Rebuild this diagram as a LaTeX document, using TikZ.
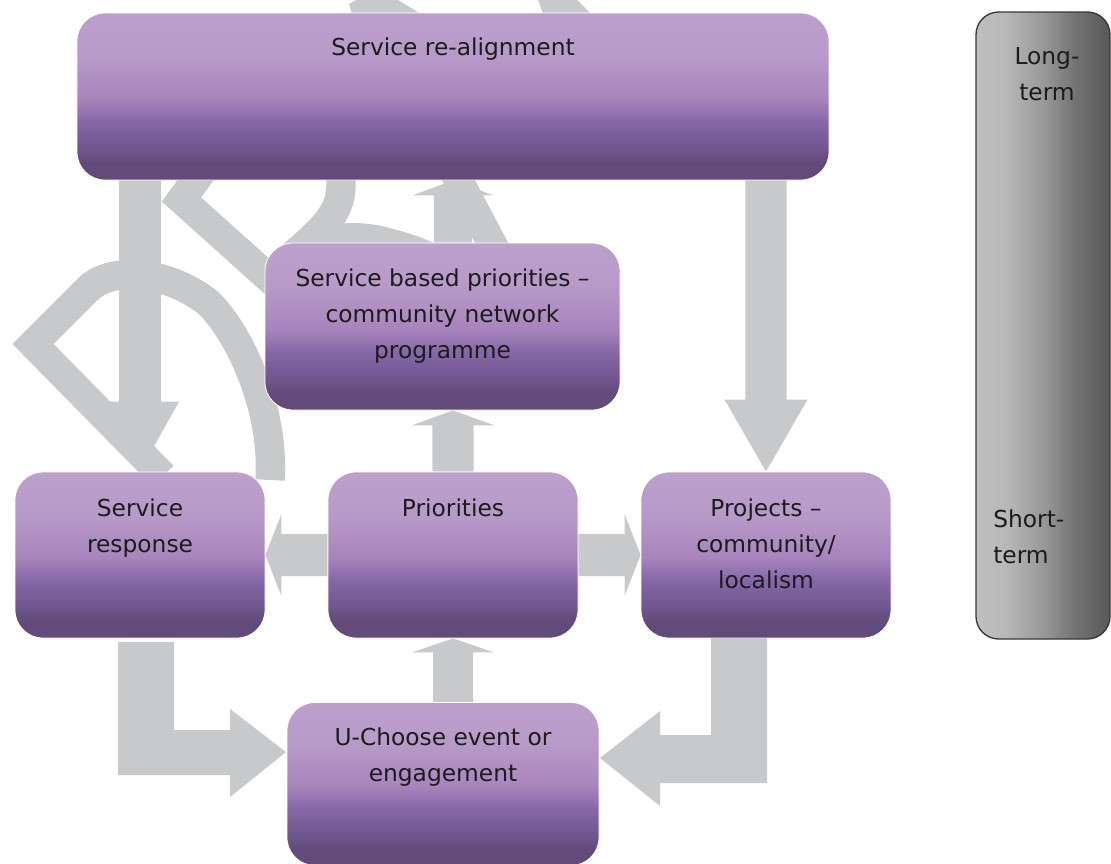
\documentclass[tikz,border=0pt]{standalone}
\usepackage{fontspec}
\setmainfont{DejaVu Sans}
\usetikzlibrary{calc}

% palette
\definecolor{bandc}{RGB}{200,201,203}
\definecolor{textc}{RGB}{28,28,28}
\definecolor{pbot}{RGB}{98,74,122}
\definecolor{pdk}{RGB}{114,88,146}
\definecolor{pmid}{RGB}{134,104,168}
\definecolor{plt}{RGB}{168,133,189}
\definecolor{plt2}{RGB}{183,154,200}
\definecolor{ptop}{RGB}{188,160,204}
\definecolor{gl}{RGB}{191,191,191}
\definecolor{gl2}{RGB}{184,184,184}
\definecolor{gm}{RGB}{150,150,150}
\definecolor{gd2}{RGB}{115,115,115}
\definecolor{gd}{RGB}{88,88,88}
\definecolor{barline}{RGB}{55,55,55}

\pgfdeclareverticalshading{purpshade}{100bp}{color(0bp)=(pbot); color(25bp)=(pbot); color(30bp)=(pbot); color(35.5bp)=(pdk); color(42.5bp)=(pmid); color(49.5bp)=(plt); color(62bp)=(plt2); color(75bp)=(ptop); color(100bp)=(ptop)}
\pgfdeclarehorizontalshading{barshade}{100bp}{color(0bp)=(gl); color(25bp)=(gl); color(36bp)=(gl2); color(51bp)=(gm); color(62bp)=(gd2); color(75bp)=(gd); color(100bp)=(gd)}

\pgfdeclarelayer{bands}
\pgfsetlayers{bands,main}

% straight block arrow: #1 start, #2 tip, #3 half shaft width, #4 half head width, #5 head length
\newcommand\bandarrow[5]{%
  \coordinate (ba-h) at ($(#2)!#5!(#1)$);
  \fill[bandc] ($(#1)!#3!90:(#2)$) -- ($(ba-h)!#3!90:(#2)$) -- ($(ba-h)!#4!90:(#2)$)
    -- (#2) -- ($(ba-h)!#4!-90:(#2)$) -- ($(ba-h)!#3!-90:(#2)$) -- ($(#1)!#3!-90:(#2)$) -- cycle;
}

\tikzset{
  box/.style={rounded corners=21pt, shading=purpshade, draw=white, line width=0.6pt, inner sep=0pt},
  termbar/.style={rounded corners=17pt, shading=barshade, draw=barline, line width=1pt, inner sep=0pt},
  txt/.style={font=\fontsize{17.5}{27}\selectfont, align=center, inner sep=0pt, text=textc, anchor=north},
  band/.style={draw=bandc, line width=22pt, line join=miter, line cap=butt}
}

\begin{document}
\begin{tikzpicture}[x=0.75pt, y=-0.75pt]
\useasboundingbox (0,0) rectangle (1111,864);

% ---- boxes ----
\node[box, minimum width=564pt, minimum height=125.25pt] (realign) at (453,96.5) {};
\node[box, minimum width=266.25pt, minimum height=125.25pt] (sbp) at (442.5,326.5) {};
\node[box, minimum width=187.5pt, minimum height=124.5pt] (sresp) at (140,555) {};
\node[box, minimum width=187.5pt, minimum height=124.5pt] (prio) at (453,555) {};
\node[box, minimum width=187.5pt, minimum height=124.5pt] (proj) at (766,555) {};
\node[box, minimum width=234pt, minimum height=122.25pt] (uch) at (443,784) {};
\node[termbar, minimum width=100.5pt, minimum height=470.25pt] (bar) at (1043,325.5) {};

% ---- texts ----
\node[txt] (realign-t) at ($(realign.north)+(0,24.7)$) {Service re-alignment};
\node[txt] (sbp-t) at ($(sbp.north)+(0,25.7)$) {Service based priorities –\\community network\\programme};
\node[txt] (sresp-t) at ($(sresp.north)+(0,26.7)$) {Service\\response};
\node[txt] (prio-t) at ($(prio.north)+(0,26.7)$) {Priorities};
\node[txt] (proj-t) at ($(proj.north)+(0,26.7)$) {Projects –\\community/\\localism};
\node[txt] (uch-t) at ($(uch.north)+(0,25.7)$) {U-Choose event or\\engagement};
\node[txt] (long-t) at ($(bar.north)+(4,35.7)$) {Long-\\term};
\node[txt, anchor=north west, align=left] (short-t) at (993,509.7) {Short-\\term};

\begin{pgfonlayer}{bands}
% ---- decorative loop bands ----
\draw[band] (163,476) -- (33,344) -- (88,289) .. controls (108,269) and (158,267) .. (205,300)
  .. controls (232,322) and (275,400) .. (270,480);
\draw[band] (203,170) -- (181.5,199.5) -- (300,306);
\draw[band] (341,170) -- (341,185) .. controls (341,215) and (320,232) .. (285,262);
\fill[bandc] (310,246) -- (325,228) .. controls (340,221) and (365,222) .. (386,227)
  .. controls (405,232) and (420,236) .. (440,246) -- cycle;
\draw[band] (452,168) -- (506,270);
\fill[bandc] (349,4) -- (356,0) -- (398,0) -- (421,14) -- (352,14) -- cycle;
\fill[bandc] (538,0) -- (577,0) -- (591,14) -- (543,14) -- cycle;

% ---- block arrows between boxes ----
\bandarrow{realign.south -| proj.north}{proj.north}{15.4pt}{31.1pt}{54pt}
\bandarrow{realign.south -| sresp.north}{sresp.north}{15.75pt}{29.25pt}{52.5pt}
\bandarrow{prio.north}{sbp.south -| prio.north}{15.4pt}{31.1pt}{11.25pt}
\bandarrow{sbp.north -| prio.north}{realign.south -| prio.north}{14.3pt}{30.4pt}{11.25pt}
\bandarrow{uch.north -| prio.north}{prio.south}{15pt}{30.75pt}{10.5pt}
\bandarrow{prio.west}{sresp.east}{15.75pt}{30.75pt}{12pt}
\bandarrow{prio.east}{proj.west}{15.75pt}{30.75pt}{12pt}

% elbow arrows into the event box
\coordinate (hTip) at (286,752);
\coordinate (iTip) at (600,758);
\fill[bandc] (118,642) -- (174,642) -- (174,730) -- (230,730) -- (230,709) -- (hTip)
  -- (230,797) -- (230,775) -- (118,775) -- cycle;
\fill[bandc] (711,636) -- (767,636) -- (767,783) -- (660,783) -- (660,806) -- (iTip)
  -- (660,711) -- (660,735) -- (711,735) -- cycle;
\end{pgfonlayer}
\end{tikzpicture}
\end{document}
